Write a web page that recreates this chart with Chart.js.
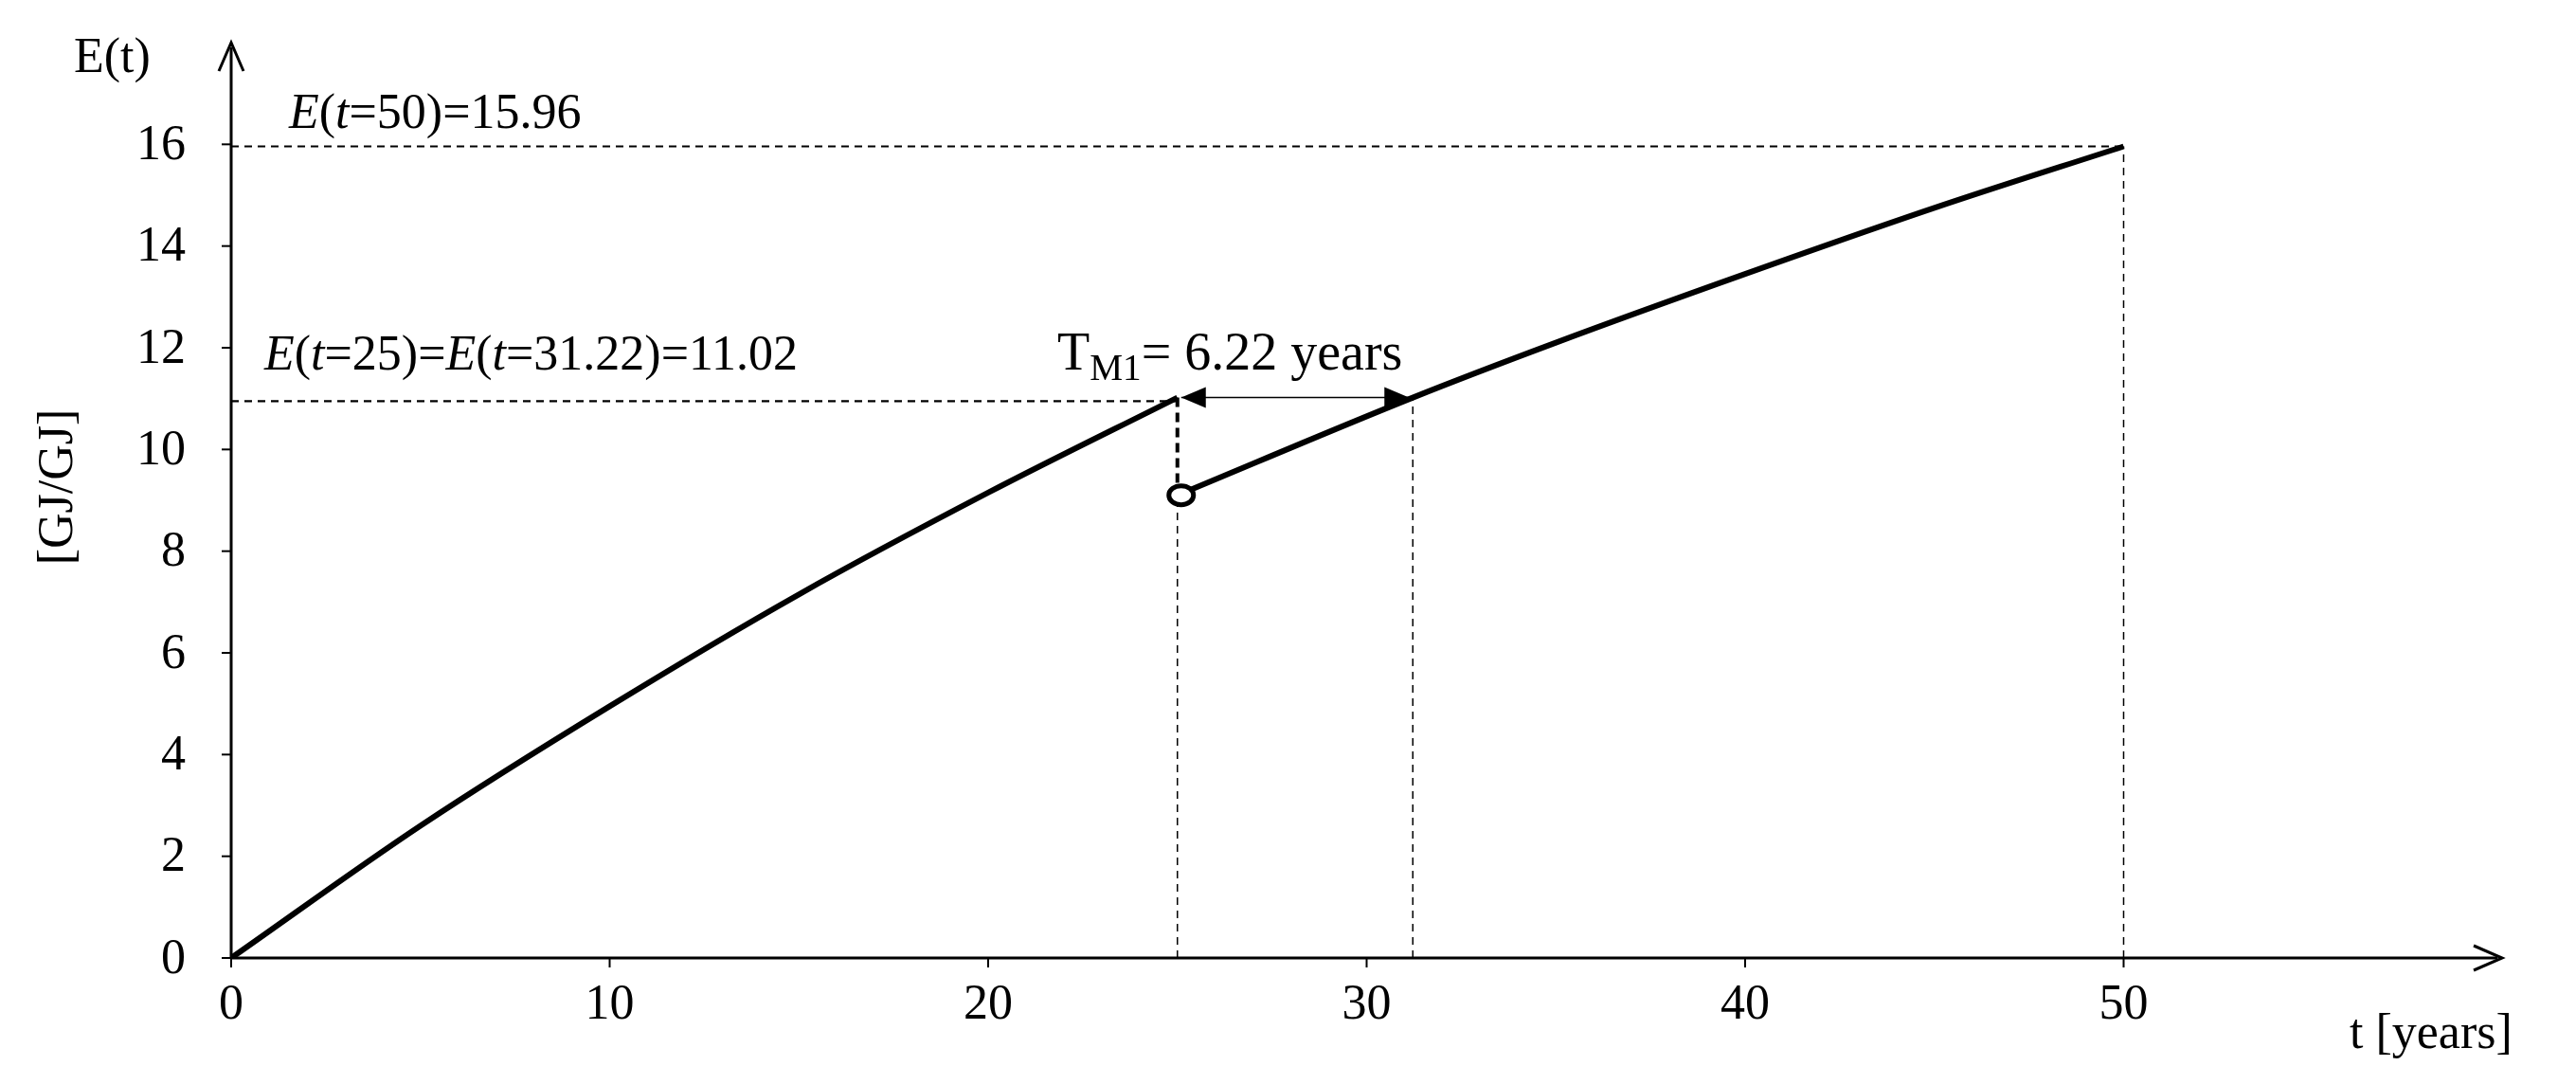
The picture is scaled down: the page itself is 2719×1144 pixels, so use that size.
<!DOCTYPE html>
<html><head><meta charset="utf-8">
<script src="https://cdn.jsdelivr.net/npm/chart.js"></script>
<style>html,body{margin:0;background:#fff}canvas{display:block}</style>
</head><body>
<canvas id="c" width="2719" height="1144"></canvas>
<script>
// data
const t1 = [0, 5, 10, 15, 20, 25];
const e1 = [0, 2.6, 4.95, 7.15, 9.15, 11.02];
const t2 = [25, 31.22, 35, 40, 45, 50];
const e2 = [9.1, 11.02, 12.1, 13.45, 14.75, 15.96];
const xTicks = [0, 10, 20, 30, 40, 50];
const yTicks = [0, 2, 4, 6, 8, 10, 12, 14, 16];

const FONT = '"Liberation Serif", serif';

function rich(ctx, parts, x, y, size) {
  ctx.textBaseline = 'alphabetic';
  ctx.textAlign = 'left';
  for (const p of parts) {
    const s = p.sub ? size * 0.7 : size;
    ctx.font = (p.it ? 'italic ' : '') + s + 'px ' + FONT;
    ctx.fillText(p.t, x, p.sub ? y + size * 0.2 : y);
    x += ctx.measureText(p.t).width;
  }
}

function arrowHead(ctx, x, y, dx, dy, len, w) {
  const px = -dy, py = dx;
  ctx.beginPath();
  ctx.moveTo(x, y);
  ctx.lineTo(x - dx * len + px * w, y - dy * len + py * w);
  ctx.lineTo(x - dx * len - px * w, y - dy * len - py * w);
  ctx.closePath();
  ctx.fill();
}

const deco = {
  id: 'deco',
  afterDraw(chart) {
    const ctx = chart.ctx, xs = chart.scales.x, ys = chart.scales.y;
    const X = v => xs.getPixelForValue(v), Y = v => ys.getPixelForValue(v);
    const x0 = X(0), y0 = Y(0);
    ctx.save();
    ctx.fillStyle = '#000'; ctx.strokeStyle = '#000';
    // axes
    ctx.lineWidth = 3; ctx.setLineDash([]);
    ctx.beginPath(); ctx.moveTo(x0, y0); ctx.lineTo(xs.right - 5, y0); ctx.stroke();
    ctx.beginPath(); ctx.moveTo(x0, y0); ctx.lineTo(x0, ys.top + 5); ctx.stroke();
    // arrow heads (open chevrons)
    ctx.lineWidth = 3;
    ctx.beginPath(); ctx.moveTo(xs.right - 30, y0 - 13); ctx.lineTo(xs.right, y0); ctx.lineTo(xs.right - 30, y0 + 13); ctx.stroke();
    ctx.beginPath(); ctx.moveTo(x0 - 13, ys.top + 30); ctx.lineTo(x0, ys.top); ctx.lineTo(x0 + 13, ys.top + 30); ctx.stroke();
    // ticks + labels
    ctx.lineWidth = 2;
    ctx.font = '52px ' + FONT;
    ctx.textAlign = 'center'; ctx.textBaseline = 'top';
    xTicks.forEach(v => {
      ctx.beginPath(); ctx.moveTo(X(v), y0); ctx.lineTo(X(v), y0 + 10); ctx.stroke();
      ctx.fillText(String(v), X(v), y0 + 24);
    });
    ctx.textAlign = 'right'; ctx.textBaseline = 'middle';
    yTicks.forEach(v => {
      ctx.beginPath(); ctx.moveTo(x0, Y(v)); ctx.lineTo(x0 - 10, Y(v)); ctx.stroke();
      ctx.fillText(String(v), x0 - 48, Y(v) + 2);
    });
    // guide lines
    ctx.lineWidth = 1.5; ctx.setLineDash([8, 6]);
    [[25, 9.1], [31.22, 11.02], [50, 15.96]].forEach(([t, e]) => {
      ctx.beginPath(); ctx.moveTo(X(t), y0); ctx.lineTo(X(t), Y(e)); ctx.stroke();
    });
    ctx.lineWidth = 2.2;
    ctx.beginPath(); ctx.moveTo(x0, Y(15.96)); ctx.lineTo(X(50), Y(15.96)); ctx.stroke();
    ctx.beginPath(); ctx.moveTo(x0, Y(10.95)); ctx.lineTo(X(25), Y(10.95)); ctx.stroke();
    ctx.lineWidth = 4; ctx.setLineDash([10, 6]);
    ctx.beginPath(); ctx.moveTo(X(25), Y(11.02)); ctx.lineTo(X(25), Y(9.1)); ctx.stroke();
    // double arrow T_M1
    ctx.setLineDash([]); ctx.lineWidth = 1.5;
    const ax1 = X(25) + 4, ax2 = X(31.22) - 4, ay = Y(11.02);
    ctx.beginPath(); ctx.moveTo(ax1, ay); ctx.lineTo(ax2, ay); ctx.stroke();
    arrowHead(ctx, ax1, ay, -1, 0, 26, 11);
    arrowHead(ctx, ax2, ay, 1, 0, 26, 11);
    // hollow point
    ctx.lineWidth = 5; ctx.fillStyle = '#fff';
    ctx.beginPath(); ctx.ellipse(X(25) + 4, Y(9.1), 13, 10, 0, 0, Math.PI * 2); ctx.fill(); ctx.stroke();
    ctx.fillStyle = '#000';
    // texts
    ctx.font = '52px ' + FONT; ctx.textAlign = 'left'; ctx.textBaseline = 'alphabetic';
    ctx.fillText('E(t)', 78, 76);
    ctx.fillText('t [years]', 2480, 1106);
    ctx.save(); ctx.translate(76, 514); ctx.rotate(-Math.PI / 2); ctx.textAlign = 'center';
    ctx.fillText('[GJ/GJ]', 0, 0); ctx.restore();
    rich(ctx, [{t: 'E', it: 1}, {t: '('}, {t: 't', it: 1}, {t: '=50)=15.96'}], 305, 135, 52);
    rich(ctx, [{t: 'E', it: 1}, {t: '('}, {t: 't', it: 1}, {t: '=25)='}, {t: 'E', it: 1}, {t: '('}, {t: 't', it: 1}, {t: '=31.22)=11.02'}], 279, 390, 52);
    rich(ctx, [{t: 'T'}, {t: 'M1', sub: 1}, {t: '= 6.22 years'}], 1116, 390, 56);
    ctx.restore();
  }
};

const line = (xs, ys) => xs.map((x, i) => ({x, y: ys[i]}));
new Chart(document.getElementById('c'), {
  type: 'line',
  data: {
    datasets: [
      {data: line(t1, e1), borderColor: '#000', borderWidth: 6, pointRadius: 0, cubicInterpolationMode: 'monotone'},
      {data: line(t2, e2), borderColor: '#000', borderWidth: 6, pointRadius: 0, cubicInterpolationMode: 'monotone'}
    ]
  },
  options: {
    responsive: false, animation: false, devicePixelRatio: 1,
    layout: {padding: {left: 244, right: 78, top: 45, bottom: 133}},
    plugins: {legend: {display: false}, tooltip: {enabled: false}},
    scales: {
      x: {type: 'linear', min: 0, max: 60, display: false},
      y: {min: 0, max: 18, display: false}
    }
  },
  plugins: [deco]
});
</script>
</body></html>
